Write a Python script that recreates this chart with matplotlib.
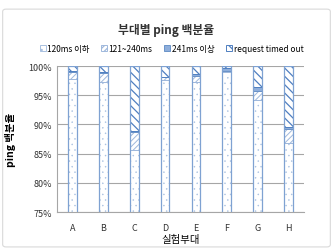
import matplotlib
matplotlib.use("Agg")
import matplotlib.pyplot as plt
from matplotlib.patches import FancyBboxPatch
import numpy as np

plt.rcParams['font.family'] = ['Noto Sans CJK KR', 'DejaVu Sans']

categories = ['A', 'B', 'C', 'D', 'E', 'F', 'G', 'H']
series_names = ['120ms 이하', '121~240ms', '241ms 이상', 'request timed out']
s_le120 = [97.8, 97.3, 85.7, 97.6, 97.3, 99.0, 94.1, 86.8]
s_121_240 = [1.1, 1.5, 3.0, 0.5, 1.0, 0.1, 1.55, 2.5]
s_ge241 = [0.2, 0.1, 0.2, 0.1, 0.4, 0.6, 0.75, 0.2]
s_timeout = [0.9, 1.1, 11.1, 1.8, 1.3, 0.3, 3.6, 10.5]
yticks = [75, 80, 85, 90, 95, 100]

fig = plt.figure(figsize=(3.33, 2.53), dpi=100)
fig.patch.set_facecolor('white')
border = FancyBboxPatch((0.008, 0.02), 0.984, 0.94, boxstyle="round,pad=0,rounding_size=0.01",
                        transform=fig.transFigure, fill=False, edgecolor='#d9d9d9', linewidth=0.8)
fig.patches.append(border)

ax = fig.add_axes([0.172, 0.158, 0.74, 0.577])
x = np.arange(len(categories))
w = 0.28
styles = [
    dict(facecolor='white', hatch='...', edgecolor='#a8c0e0'),
    dict(facecolor='white', hatch='//////', edgecolor='#9fb8dc'),
    dict(facecolor='#8eaedb', hatch=None, edgecolor='#6a93c8'),
    dict(facecolor='white', hatch='\\\\\\\\', edgecolor='#4f7fc0'),
]
hatch_lws = [0.3, 0.7, 0.8, 0.9]
bottom = np.zeros(len(categories))
for vals, name, st, hlw in zip([s_le120, s_121_240, s_ge241, s_timeout], series_names, styles, hatch_lws):
    plt.rcParams['hatch.linewidth'] = hlw
    vals = np.array(vals)
    ax.bar(x, vals, w, bottom=bottom, label=name, linewidth=0.7, **st)
    bottom += vals
# outline bars
ax.bar(x, bottom, w, fill=False, edgecolor='#7fa2d2', linewidth=0.9)

ax.set_ylim(75, 100)
ax.set_xlim(-0.5, len(categories) - 0.5)
ax.set_yticks(yticks)
ax.set_yticklabels([f'{v}%' for v in yticks], fontsize=6.5, color='#333333')
ax.set_xticks(x)
ax.set_xticklabels(categories, fontsize=6.5, color='#333333')
ax.tick_params(axis='both', length=0, pad=4)
ax.tick_params(axis='x', pad=8)
ax.yaxis.grid(True, color='#a6a6a6', linewidth=0.8)
ax.set_axisbelow(True)
for s in ['top', 'right']:
    ax.spines[s].set_visible(False)
ax.spines['left'].set_color('#a6a6a6')
ax.spines['bottom'].set_color('#a6a6a6')

ax.set_xlabel('실험부대', fontsize=7.5, labelpad=1)
ax.set_ylabel('ping 백분율', fontsize=7.5, fontweight='bold', labelpad=9)

fig.text(0.5, 0.88, '부대별 ping 백분율', ha='center', va='center', fontsize=8.5, fontweight='bold', color='#333333')
handles, labels = ax.get_legend_handles_labels()
leg = fig.legend(handles, labels, loc='center', bbox_to_anchor=(0.515, 0.805), ncol=4, frameon=False,
                 fontsize=6, handlelength=0.7, handleheight=0.7, handletextpad=0.2, columnspacing=1.4)

fig.savefig('out.png', dpi=100, facecolor='white')
